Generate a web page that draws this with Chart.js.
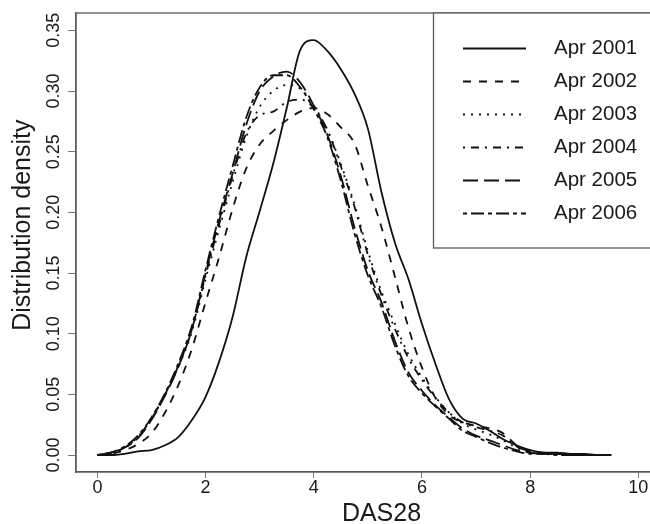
<!DOCTYPE html>
<html lang="en">
<head>
<meta charset="UTF-8">
<title>DAS28 distribution density</title>
<script src="https://cdn.jsdelivr.net/npm/chart.js"></script>
<style>
  html, body { margin: 0; padding: 0; overflow: hidden; background: #fff; }
  #wrap { width: 720px; height: 540px; }
</style>
</head>
<body>
<div id="wrap"><canvas id="myChart" width="720" height="540"></canvas></div>
<script>
// DAS28 values the densities were read at
const das28 = [0, 0.25, 0.5, 0.75, 1, 1.25, 1.5, 1.75, 2, 2.25, 2.5, 2.75, 3, 3.25, 3.5, 3.75, 4, 4.25, 4.5, 4.75,
               5, 5.25, 5.5, 5.75, 6, 6.25, 6.5, 6.75, 7, 7.25, 7.5, 7.75, 8, 8.25, 8.5, 8.75, 9, 9.25, 9.5];

const apr2001 = [0, 0, 0.001, 0.003, 0.004, 0.008, 0.015, 0.029, 0.048, 0.077, 0.114, 0.163, 0.201, 0.240, 0.286, 0.334, 0.342, 0.333, 0.318, 0.298,
                 0.269, 0.217, 0.175, 0.145, 0.108, 0.075, 0.046, 0.030, 0.026, 0.020, 0.013, 0.008, 0.004, 0.002, 0.002, 0.001, 0.001, 0, 0];
const apr2002 = [0, 0.001, 0.004, 0.009, 0.018, 0.035, 0.058, 0.088, 0.126, 0.163, 0.203, 0.236, 0.256, 0.267, 0.276, 0.283, 0.286, 0.281, 0.270, 0.257,
                 0.222, 0.188, 0.147, 0.105, 0.072, 0.047, 0.033, 0.027, 0.024, 0.022, 0.018, 0.008, 0.003, 0.002, 0.001, 0.001, 0, 0, 0];
const apr2003 = [0, 0.002, 0.006, 0.015, 0.030, 0.050, 0.073, 0.102, 0.145, 0.186, 0.225, 0.262, 0.287, 0.300, 0.305, 0.302, 0.288, 0.268, 0.240, 0.207,
                 0.168, 0.135, 0.108, 0.083, 0.064, 0.048, 0.035, 0.026, 0.021, 0.017, 0.012, 0.006, 0.002, 0.001, 0.001, 0, 0, 0, 0];
const apr2004 = [0, 0.002, 0.006, 0.015, 0.030, 0.050, 0.074, 0.104, 0.148, 0.190, 0.230, 0.265, 0.280, 0.283, 0.291, 0.293, 0.286, 0.268, 0.238, 0.205,
                 0.165, 0.132, 0.104, 0.080, 0.062, 0.047, 0.035, 0.027, 0.023, 0.020, 0.016, 0.007, 0.003, 0.001, 0.001, 0, 0, 0, 0];
const apr2005 = [0, 0.002, 0.006, 0.014, 0.029, 0.049, 0.073, 0.104, 0.150, 0.193, 0.232, 0.272, 0.300, 0.312, 0.316, 0.307, 0.288, 0.264, 0.230, 0.188,
                 0.152, 0.126, 0.094, 0.068, 0.053, 0.041, 0.031, 0.022, 0.016, 0.012, 0.008, 0.004, 0.002, 0.001, 0.001, 0, 0, 0, 0];
const apr2006 = [0, 0.002, 0.007, 0.016, 0.031, 0.051, 0.076, 0.107, 0.153, 0.197, 0.238, 0.278, 0.303, 0.313, 0.313, 0.303, 0.285, 0.262, 0.226, 0.183,
                 0.148, 0.122, 0.090, 0.065, 0.051, 0.040, 0.030, 0.020, 0.015, 0.010, 0.006, 0.003, 0.001, 0.001, 0, 0, 0, 0, 0];

const seriesLabels = ['Apr 2001', 'Apr 2002', 'Apr 2003', 'Apr 2004', 'Apr 2005', 'Apr 2006'];
const seriesValues = [apr2001, apr2002, apr2003, apr2004, apr2005, apr2006];
// R lty: solid, dashed, dotted, dotdash, longdash, twodash
const dashes = [[], [8, 8], [2, 6], [2, 6, 8, 6], [15, 6], [4, 4, 13, 4]];

const font = 'Liberation Sans, Arial, Helvetica, sans-serif';

// legend drawn inside the plot box, R style
const boxLegend = {
  id: 'boxLegend',
  afterDraw(chart) {
    const ctx = chart.ctx;
    const a = chart.chartArea;
    ctx.save();
    // plot box
    ctx.strokeStyle = '#5a5a5a';
    ctx.lineWidth = 1.3;
    ctx.strokeRect(a.left, a.top, a.right - a.left, a.bottom - a.top);
    // legend box
    const lx = 433.5, ly = a.top, lh = 235;
    ctx.fillStyle = '#fff';
    ctx.fillRect(lx, ly, chart.width - lx, lh);
    ctx.strokeRect(lx, ly, chart.width, lh);
    chart.data.datasets.forEach((ds, i) => {
      const y = 48.5 + i * 33;
      ctx.strokeStyle = '#111';
      ctx.lineWidth = 1.8;
      ctx.setLineDash(ds.borderDash);
      ctx.beginPath();
      ctx.moveTo(463, y);
      ctx.lineTo(526, y);
      ctx.stroke();
      ctx.setLineDash([]);
      ctx.fillStyle = '#1a1a1a';
      ctx.font = '20.5px ' + font;
      ctx.textAlign = 'left';
      ctx.textBaseline = 'middle';
      ctx.fillText(ds.label, 554, y);
    });
    ctx.restore();
  }
};

const datasets = seriesLabels.map((label, i) => ({
  label: label,
  data: das28.map((x, j) => ({ x: x, y: seriesValues[i][j] })),
  borderColor: '#111',
  borderWidth: 1.8,
  borderDash: dashes[i],
  pointRadius: 0,
  fill: false,
  cubicInterpolationMode: 'monotone'
}));

const config = {
  type: 'line',
  data: { datasets },
  options: {
    responsive: false,
    animation: false,
    devicePixelRatio: 1,
    layout: { padding: { left: 0, top: 13, right: 33, bottom: 11 } },
    plugins: { legend: { display: false }, tooltip: { enabled: false } },
    scales: {
      x: {
        type: 'linear',
        min: -0.396,
        max: 10.9,
        afterFit: s => { s.height = 57; },
        grid: { display: true, drawOnChartArea: false, drawTicks: true, tickLength: 6, color: '#777' },
        border: { display: true, color: '#5a5a5a', width: 1.3 },
        ticks: { stepSize: 2, includeBounds: false, padding: -1, color: '#1a1a1a', font: { family: font, size: 18 },
                 maxRotation: 0, autoSkip: false },
        title: { display: true, text: 'DAS28', color: '#1a1a1a', font: { family: font, size: 25 }, padding: 0 }
      },
      y: {
        min: -0.014,
        max: 0.3643,
        afterFit: s => { s.width = 76; },
        grid: { display: true, drawOnChartArea: false, drawTicks: true, tickLength: 8, color: '#777' },
        border: { display: true, color: '#5a5a5a', width: 1.3 },
        ticks: { stepSize: 0.05, includeBounds: false, padding: -3.5, crossAlign: 'center',
                 minRotation: 90, maxRotation: 90, color: '#1a1a1a', font: { family: font, size: 18 },
                 callback: v => v.toFixed(2) },
        title: { display: true, text: '     Distribution density', color: '#1a1a1a',
                 font: { family: font, size: 25 }, padding: { top: 8.5, bottom: 0 } }
      }
    }
  },
  plugins: [boxLegend]
};

const myChart = new Chart(document.getElementById('myChart'), config);
</script>
</body>
</html>
